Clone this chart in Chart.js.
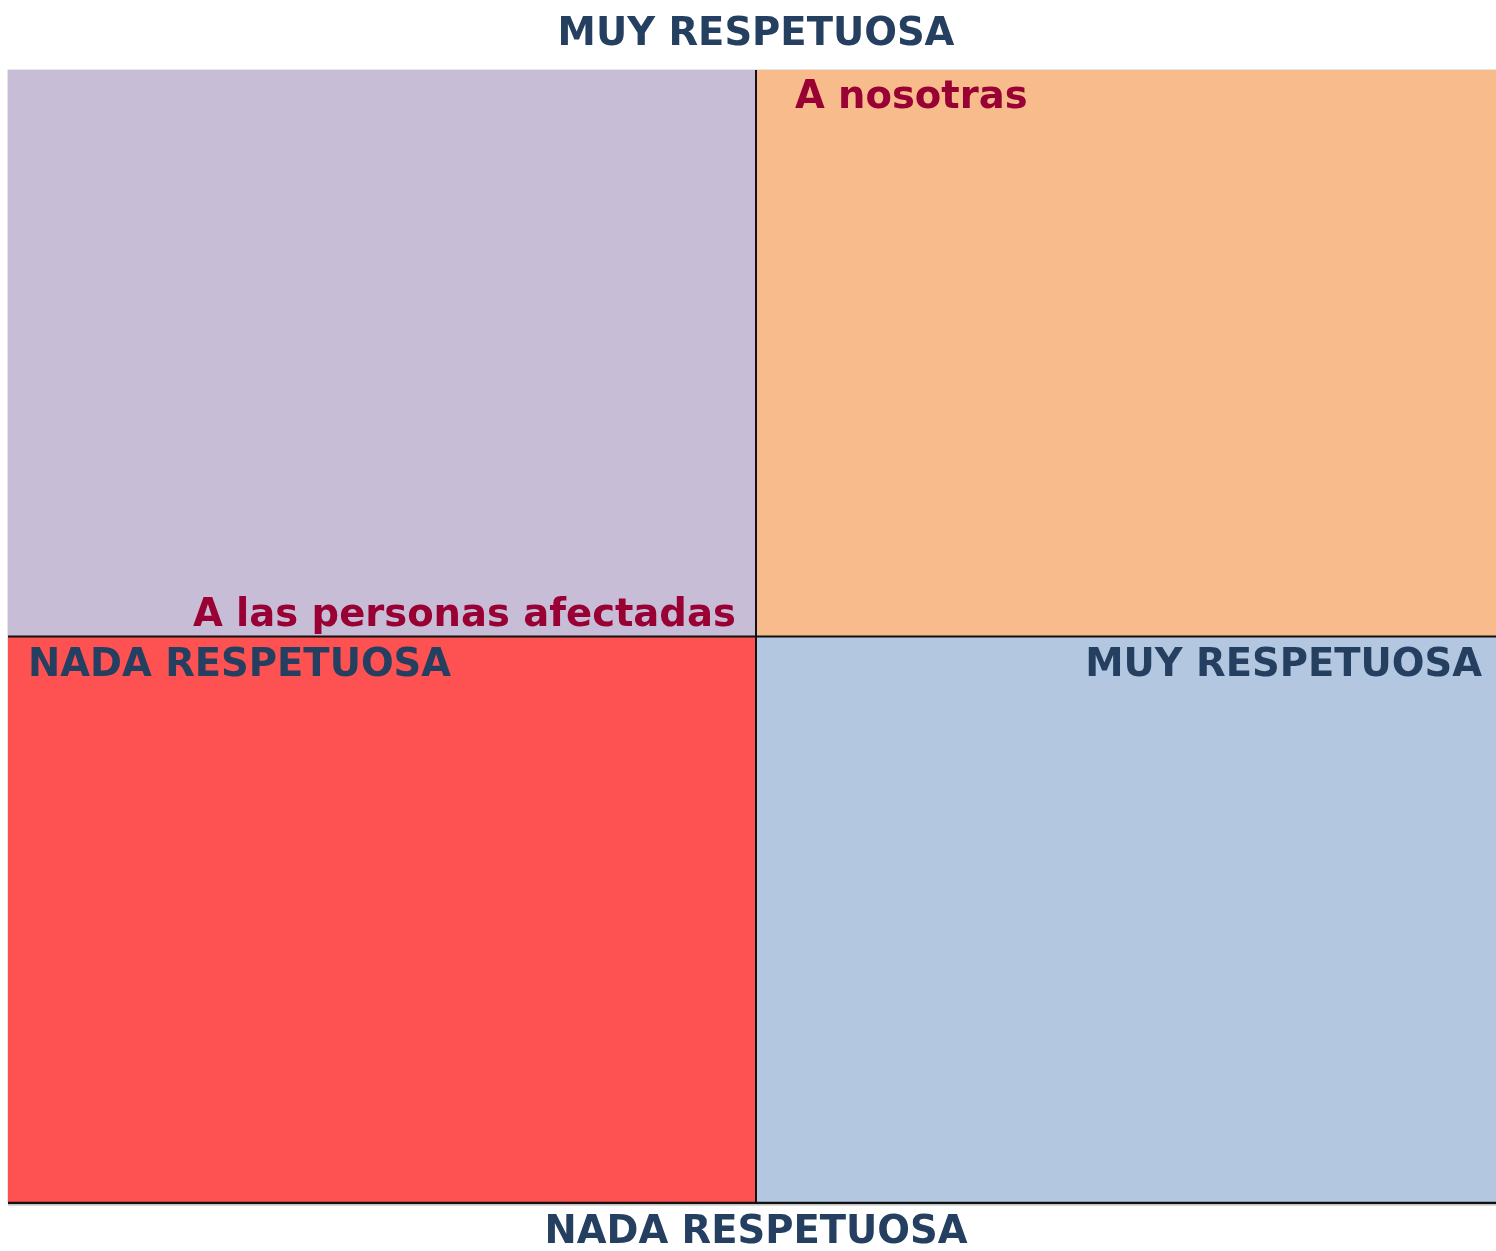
<!DOCTYPE html>
<html>
<head>
<meta charset="utf-8">
<script src="https://cdn.jsdelivr.net/npm/chart.js@4/dist/chart.umd.min.js"></script>
<style>
html,body{margin:0;padding:0;background:#fff;overflow:hidden;}
#wrap{width:1504px;height:1251px;}
</style>
</head>
<body>
<div id="wrap"><canvas id="c" width="1504" height="1251"></canvas></div>
<script>
// Data
const pointNames = ["A nosotras", "A las personas afectadas"];
const pointX = [0.52, -0.27];
const pointY = [9.5, 0.37];
const axisLabelTop = "MUY RESPETUOSA";
const axisLabelBottom = "NADA RESPETUOSA";
const axisLabelLeft = "NADA RESPETUOSA";
const axisLabelRight = "MUY RESPETUOSA";
const scaleMin = -10;
const scaleMax = 10;

// Styles
const labelAlign = ["left", "right"];
const quadColors = { tl: "#C7BDD7", tr: "#F8BC8C", bl: "#FE5151", br: "#B4C7E0" };
const navy = "#243F60";
const crimson = "#990033";
const FONT = "bold 38.5px 'DejaVu Sans', Verdana, sans-serif";

const quadrantPlugin = {
  id: "quadrants",
  beforeDatasetsDraw(chart) {
    const { ctx, chartArea: a, scales: { x, y } } = chart;
    const cx = x.getPixelForValue(0), cy = y.getPixelForValue(0);
    ctx.save();
    ctx.fillStyle = quadColors.tl; ctx.fillRect(a.left, a.top, cx - a.left, cy - a.top);
    ctx.fillStyle = quadColors.tr; ctx.fillRect(cx, a.top, a.right - cx, cy - a.top);
    ctx.fillStyle = quadColors.bl; ctx.fillRect(a.left, cy, cx - a.left, a.bottom - cy);
    ctx.fillStyle = quadColors.br; ctx.fillRect(cx, cy, a.right - cx, a.bottom - cy);
    // faint outer edges
    ctx.strokeStyle = "#e6e6e6"; ctx.lineWidth = 1;
    ctx.beginPath(); ctx.moveTo(a.left - 0.5, a.top); ctx.lineTo(a.left - 0.5, a.bottom); ctx.stroke();
    ctx.beginPath(); ctx.moveTo(a.left, a.top - 0.5); ctx.lineTo(a.right, a.top - 0.5); ctx.stroke();
    // axes
    ctx.strokeStyle = "#111"; ctx.lineWidth = 2;
    ctx.beginPath(); ctx.moveTo(cx, a.top); ctx.lineTo(cx, a.bottom); ctx.stroke();
    ctx.beginPath(); ctx.moveTo(a.left, cy); ctx.lineTo(a.right, cy); ctx.stroke();
    ctx.lineWidth = 2.5;
    ctx.beginPath(); ctx.moveTo(a.left, a.bottom); ctx.lineTo(a.right, a.bottom); ctx.stroke();
    ctx.strokeStyle = "rgba(0,0,0,0.15)"; ctx.lineWidth = 1;
    ctx.beginPath(); ctx.moveTo(a.left, a.bottom + 2.5); ctx.lineTo(a.right, a.bottom + 2.5); ctx.stroke();

    // axis labels
    ctx.font = FONT; ctx.fillStyle = navy; ctx.textBaseline = "middle";
    ctx.textAlign = "center";
    ctx.fillText(axisLabelTop, cx, 35);
    ctx.fillText(axisLabelBottom, cx, 1233);
    ctx.textAlign = "left";
    ctx.fillText(axisLabelLeft, a.left + 20, cy + 29);
    ctx.textAlign = "right";
    ctx.fillText(axisLabelRight, 1482, cy + 29);
    ctx.restore();
  },
  afterDatasetsDraw(chart) {
    const { ctx } = chart;
    const meta = chart.getDatasetMeta(0);
    ctx.save();
    ctx.font = FONT; ctx.fillStyle = crimson; ctx.textBaseline = "middle";
    meta.data.forEach((pt, i) => {
      ctx.textAlign = labelAlign[i];
      ctx.fillText(pointNames[i], pt.x, pt.y);
    });
    ctx.restore();
  }
};

new Chart(document.getElementById("c"), {
  type: "scatter",
  data: {
    datasets: [{
      label: "Puntos",
      data: pointX.map((v, i) => ({ x: v, y: pointY[i] })),
      pointRadius: 0,
      pointHoverRadius: 0,
      backgroundColor: crimson
    }]
  },
  options: {
    responsive: false,
    animation: false,
    devicePixelRatio: 1,
    layout: { padding: { left: 8, top: 70, right: 0, bottom: 48 } },
    plugins: { legend: { display: false }, tooltip: { enabled: false } },
    scales: {
      x: { type: "linear", min: scaleMin, max: scaleMax, display: false },
      y: { type: "linear", min: scaleMin, max: scaleMax, display: false }
    }
  },
  plugins: [quadrantPlugin]
});
</script>
</body>
</html>
